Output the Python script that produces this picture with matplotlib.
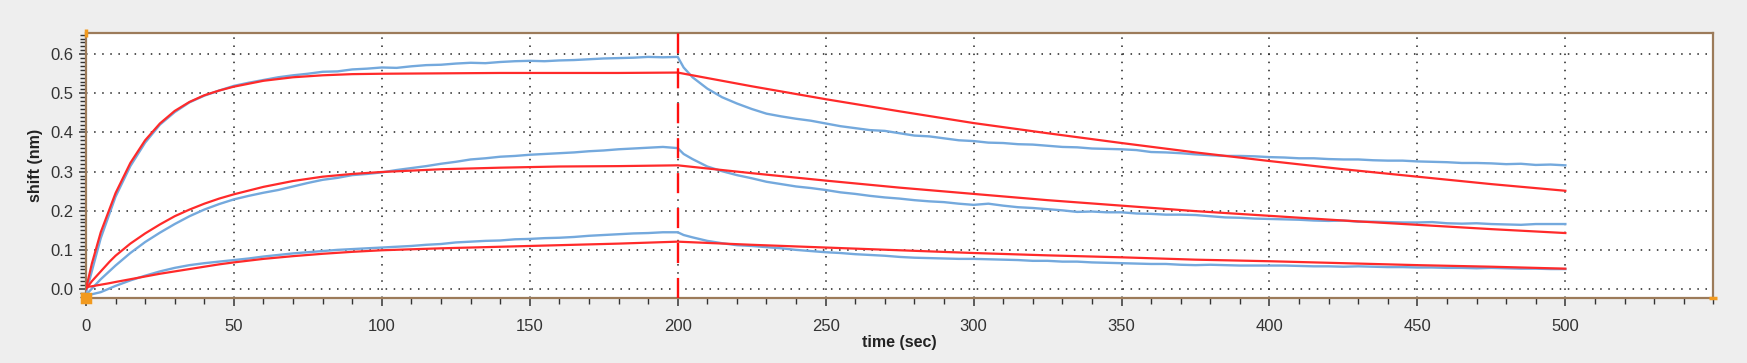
import numpy as np
import matplotlib
matplotlib.use("Agg")
import matplotlib.pyplot as plt
from matplotlib.ticker import MultipleLocator, FormatStrFormatter

plt.rcParams['font.family'] = ['Liberation Sans', 'DejaVu Sans']

# measured traces (blue), sampled every 5 s
t_blue = np.r_[np.arange(0, 201, 5), 202, np.arange(205, 501, 5)]

blue_top = [-0.010, 0.130, 0.236, 0.314, 0.374, 0.420, 0.452, 0.477, 0.494, 0.507,
            0.519, 0.527, 0.534, 0.541, 0.546, 0.550, 0.555, 0.556, 0.561, 0.563,
            0.566, 0.565, 0.569, 0.572, 0.573, 0.576, 0.578, 0.577, 0.580, 0.582,
            0.583, 0.582, 0.584, 0.585, 0.587, 0.589, 0.590, 0.591, 0.593, 0.592, 0.593,
            0.566,
            0.541, 0.512, 0.490, 0.474, 0.460, 0.448, 0.441, 0.435, 0.430, 0.423,
            0.416, 0.411, 0.406, 0.404, 0.398, 0.392, 0.390, 0.385, 0.380, 0.378,
            0.374, 0.373, 0.370, 0.369, 0.366, 0.363, 0.362, 0.359, 0.358, 0.357,
            0.355, 0.350, 0.349, 0.347, 0.344, 0.342, 0.340, 0.340, 0.339, 0.337,
            0.336, 0.334, 0.334, 0.332, 0.331, 0.331, 0.329, 0.328, 0.328, 0.326,
            0.325, 0.324, 0.322, 0.322, 0.321, 0.319, 0.320, 0.317, 0.318, 0.316]

blue_mid = [-0.015, 0.025, 0.060, 0.092, 0.120, 0.144, 0.166, 0.186, 0.203, 0.217,
            0.229, 0.238, 0.246, 0.253, 0.262, 0.271, 0.279, 0.284, 0.291, 0.294,
            0.298, 0.304, 0.309, 0.314, 0.320, 0.325, 0.331, 0.334, 0.338, 0.340,
            0.343, 0.345, 0.347, 0.349, 0.352, 0.354, 0.357, 0.359, 0.361, 0.363, 0.360,
            0.345,
            0.332, 0.313, 0.301, 0.291, 0.283, 0.274, 0.268, 0.262, 0.258, 0.253,
            0.247, 0.243, 0.238, 0.234, 0.231, 0.227, 0.224, 0.222, 0.218, 0.215,
            0.218, 0.213, 0.209, 0.207, 0.204, 0.201, 0.197, 0.198, 0.196, 0.196,
            0.193, 0.192, 0.190, 0.190, 0.189, 0.186, 0.183, 0.182, 0.180, 0.179,
            0.178, 0.177, 0.175, 0.174, 0.175, 0.172, 0.172, 0.171, 0.170, 0.170,
            0.171, 0.168, 0.167, 0.168, 0.166, 0.165, 0.164, 0.166, 0.166, 0.166]

blue_low = [-0.017, -0.008, 0.008, 0.022, 0.034, 0.045, 0.054, 0.061, 0.066, 0.070,
            0.074, 0.078, 0.083, 0.087, 0.091, 0.094, 0.097, 0.100, 0.102, 0.104,
            0.106, 0.108, 0.110, 0.113, 0.115, 0.119, 0.121, 0.123, 0.124, 0.127,
            0.128, 0.130, 0.131, 0.133, 0.136, 0.138, 0.140, 0.142, 0.143, 0.145, 0.145,
            0.138,
            0.132, 0.123, 0.117, 0.112, 0.110, 0.107, 0.104, 0.100, 0.097, 0.094,
            0.092, 0.089, 0.087, 0.085, 0.082, 0.080, 0.079, 0.078, 0.077, 0.077,
            0.076, 0.075, 0.074, 0.072, 0.072, 0.070, 0.070, 0.068, 0.067, 0.066,
            0.065, 0.064, 0.064, 0.062, 0.061, 0.062, 0.061, 0.060, 0.060, 0.060,
            0.060, 0.059, 0.058, 0.058, 0.057, 0.058, 0.057, 0.056, 0.056, 0.055,
            0.055, 0.054, 0.054, 0.053, 0.054, 0.053, 0.052, 0.052, 0.051, 0.051]

# fitted curves (red)
t_fit = [0, 2, 5, 8, 10, 15, 20, 25, 30, 35, 40, 45, 50, 60, 70, 80, 90, 100,
         120, 140, 160, 180, 200, 225, 250, 275, 300, 325, 350, 375, 400, 425,
         450, 475, 500]
fit_top = [0.0, 0.065, 0.145, 0.205, 0.245, 0.322, 0.380, 0.423, 0.455, 0.478,
           0.495, 0.507, 0.517, 0.532, 0.541, 0.546, 0.549, 0.550, 0.551, 0.552,
           0.552, 0.552, 0.553, 0.518, 0.485, 0.454, 0.424, 0.398, 0.373, 0.349,
           0.327, 0.306, 0.287, 0.268, 0.251]
fit_mid = [0.0, 0.020, 0.045, 0.070, 0.085, 0.116, 0.142, 0.165, 0.186, 0.203,
           0.218, 0.231, 0.242, 0.261, 0.276, 0.287, 0.294, 0.299, 0.306, 0.310,
           0.313, 0.314, 0.316, 0.296, 0.277, 0.259, 0.243, 0.227, 0.213, 0.199,
           0.187, 0.175, 0.164, 0.153, 0.143]
fit_low = [0.005, 0.007, 0.011, 0.015, 0.018, 0.025, 0.032, 0.039, 0.045, 0.051,
           0.057, 0.063, 0.068, 0.077, 0.084, 0.090, 0.095, 0.099, 0.104, 0.108,
           0.112, 0.116, 0.121, 0.113, 0.106, 0.099, 0.092, 0.086, 0.081, 0.075,
           0.071, 0.066, 0.061, 0.057, 0.052]

switch_time = 200

blue = '#74a9dd'
red = '#ff2a2a'
frame = '#9c7b5a'

fig = plt.figure(figsize=(17.47, 3.63), dpi=100, facecolor='#eeeeee')
ax = fig.add_axes([0.0492, 0.179, 0.9315, 0.730])
ax.set_facecolor('white')

for y in (blue_top, blue_mid, blue_low):
    ax.plot(t_blue, y, color=blue, lw=1.7, zorder=3)
for y in (fit_top, fit_mid, fit_low):
    ax.plot(t_fit, y, color=red, lw=1.6, zorder=4)

ax.axvline(switch_time, color='#ff1010', lw=1.7, linestyle=(0, (8.5, 6.3)), zorder=5)

ax.set_xlim(0, 550)
ax.set_ylim(-0.023, 0.654)
ax.set_xticks(np.arange(0, 501, 50))
ax.xaxis.set_minor_locator(MultipleLocator(10))
ax.yaxis.set_major_locator(MultipleLocator(0.1))
ax.yaxis.set_minor_locator(MultipleLocator(0.01))
ax.yaxis.set_major_formatter(FormatStrFormatter('%.1f'))

ax.grid(True, which='major', color='#222222', lw=1.1, linestyle=(0, (1, 4.3)))
ax.set_axisbelow(True)

for s in ax.spines.values():
    s.set_color(frame)
    s.set_linewidth(1.6)

ax.tick_params(axis='both', which='major', labelsize=12, labelcolor='#333333',
               color='#333333', direction='out')
ax.tick_params(axis='x', which='major', length=6, width=1.1, pad=9)
ax.tick_params(axis='x', which='minor', length=4, width=1.0, color='#333333')
ax.tick_params(axis='y', which='major', length=5, width=1.1, pad=4)
ax.tick_params(axis='y', which='minor', length=4, width=1.0, color='#333333')

ax.set_xlabel('time (sec)', fontsize=11.5, fontweight='bold', color='#222222', labelpad=1)
ax.set_ylabel('shift (nm)', fontsize=11.5, fontweight='bold', color='#222222', labelpad=5)

# small orange corner handles
for xa, ya, m in [(0, 1, '|'), (0, 0, 's'), (1, 0, '_')]:
    ax.plot([xa], [ya], marker=m, color='#f29a1f', markersize=6, mew=2.5,
            transform=ax.transAxes, clip_on=False, zorder=6)

fig.savefig('out.png', dpi=100, facecolor=fig.get_facecolor())
